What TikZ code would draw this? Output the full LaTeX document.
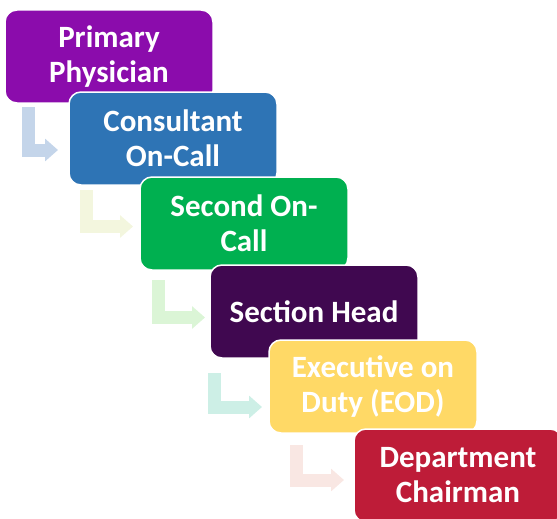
\documentclass[tikz,border=0pt]{standalone}
\usepackage{fontspec}
\setmainfont{Carlito}
\usetikzlibrary{arrows.meta,positioning}
\definecolor{physcol}{RGB}{139,12,172}
\definecolor{conscol}{RGB}{46,116,181}
\definecolor{seccol}{RGB}{0,176,80}
\definecolor{headcol}{RGB}{64,8,80}
\definecolor{eodcol}{RGB}{255,217,102}
\definecolor{chaircol}{RGB}{190,28,56}
\definecolor{flowa}{RGB}{196,213,234}
\definecolor{flowb}{RGB}{243,246,222}
\definecolor{flowc}{RGB}{219,245,214}
\definecolor{flowd}{RGB}{205,239,230}
\definecolor{flowe}{RGB}{249,231,227}

\begin{document}
\begin{tikzpicture}
\tikzstyle{stage}=[rectangle, rounded corners=12pt, draw=white, line width=1.5pt, minimum width=208pt, minimum height=93pt, text=white, align=center, font=\fontsize{31}{35}\selectfont\bfseries]
\tikzstyle{flow}=[line width=13pt, line join=miter, -{Triangle[length=13pt,width=22pt]}]
\useasboundingbox (0,0) rectangle (557pt,-519pt);
  \node[stage, fill=physcol] (PP) [xshift=109pt, yshift=-56.5pt] {Primary\\Physician};
  \node[stage, fill=conscol] (CO) [xshift=173pt, yshift=-138.5pt] {Consultant\\On-Call};
  \node[stage, fill=seccol] (SO) [xshift=244pt, yshift=-223.5pt] {Second On-\\Call};
  \node[stage, fill=headcol] (SH) [xshift=314pt, yshift=-311.5pt] {Section Head};
  \node[stage, fill=eodcol] (ED) [xshift=373pt, yshift=-386.5pt] {Executive on\\Duty (EOD)};
  \node[stage, fill=chaircol] (DC) [xshift=458pt, yshift=-475.5pt] {Department\\Chairman};
  \coordinate (f1s) at (28pt,-107pt);
  \coordinate (f1e) at (58pt,-150pt);
  \coordinate (f2s) at (86pt,-190pt);
  \coordinate (f2e) at (133pt,-226.5pt);
  \coordinate (f3s) at (158pt,-280pt);
  \coordinate (f3e) at (205pt,-317.5pt);
  \coordinate (f4s) at (214.5pt,-373pt);
  \coordinate (f4e) at (262pt,-407pt);
  \coordinate (f5s) at (296.5pt,-445pt);
  \coordinate (f5e) at (344pt,-480pt);
  \draw[flow, draw=flowa] (f1s) |- (f1e);
  \draw[flow, draw=flowb] (f2s) |- (f2e);
  \draw[flow, draw=flowc] (f3s) |- (f3e);
  \draw[flow, draw=flowd] (f4s) |- (f4e);
  \draw[flow, draw=flowe] (f5s) |- (f5e);
\end{tikzpicture}
\end{document}
